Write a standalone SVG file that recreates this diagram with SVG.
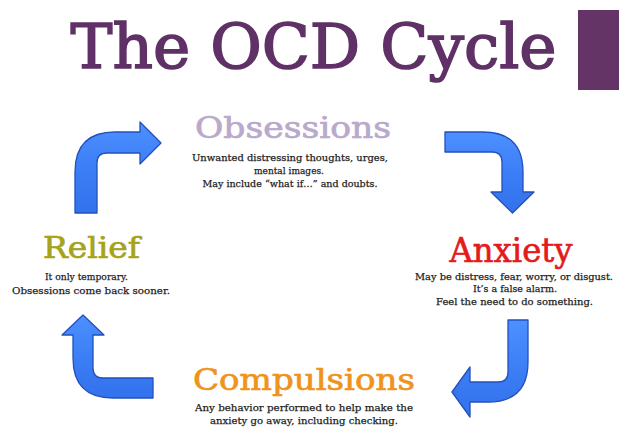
<svg xmlns="http://www.w3.org/2000/svg" width="619" height="428" viewBox="0 0 619 428">
  <defs>
    <linearGradient id="arrowFill" x1="0" y1="0" x2="0" y2="1">
      <stop offset="0" stop-color="#4d90ff"/>
      <stop offset="0.5" stop-color="#3c7ef6"/>
      <stop offset="1" stop-color="#3272ec"/>
    </linearGradient>
  </defs>
  <style>
    .head { font-family: "DejaVu Serif", "Liberation Serif", serif; text-anchor: middle; }
    .desc { font-family: "DejaVu Serif", "Liberation Serif", serif; font-size: 10px; fill: #1c1c1c; stroke: #1c1c1c; stroke-width: 0.25; text-anchor: middle; }
    .arrow { fill: url(#arrowFill); stroke: #2350bd; stroke-width: 1.3; stroke-linejoin: round; }
  </style>
  <rect width="619" height="428" fill="#ffffff"/>

  <g id="title">
    <text class="head" x="313.5" y="68" font-size="62" fill="#5f3166" stroke="#5f3166" stroke-width="1.6" textLength="486" lengthAdjust="spacingAndGlyphs">The OCD Cycle</text>
    <rect x="578" y="10" width="41" height="80" fill="#643466"/>
  </g>

  <g id="connectors">
    <path class="arrow" d="M75,213 L75,172 Q75,132 115,132 L140,132 L140,122 L161,143 L140,164 L140,153 L107,153 Q97,153 97,163 L97,213 Z"/>
    <path class="arrow" d="M445,132 L483,132 Q523,132 523,172 L523,192 L534,192 L512.5,213 L491,192 L502,192 L502,162 Q502,152 492,152 L445,152 Z"/>
    <path class="arrow" d="M508,320 L528,320 L528,362 Q528,402 488,402 L470,402 L470,417 L452,392 L470,367 L470,382 L498,382 Q508,382 508,372 Z"/>
    <path class="arrow" d="M153,378 L103,378 Q93,378 93,368 L93,335 L104,335 L83,315 L62,335 L73,335 L73,358 Q73,398 113,398 L153,398 Z"/>
  </g>

  <g id="obsessions">
    <text class="head" x="293" y="138" font-size="29" fill="#b9a9cc" stroke="#b9a9cc" stroke-width="0.7" textLength="196" lengthAdjust="spacingAndGlyphs">Obsessions</text>
    <text class="desc" x="290" y="161" textLength="196" lengthAdjust="spacingAndGlyphs">Unwanted distressing thoughts, urges,</text>
    <text class="desc" x="289" y="174" textLength="70" lengthAdjust="spacingAndGlyphs">mental images.</text>
    <text class="desc" x="290" y="187" textLength="175" lengthAdjust="spacingAndGlyphs">May include “what if…” and doubts.</text>
  </g>

  <g id="anxiety">
    <text class="head" x="511" y="262" font-size="33" fill="#e31b1b" stroke="#e31b1b" stroke-width="0.7" textLength="123" lengthAdjust="spacingAndGlyphs">Anxiety</text>
    <text class="desc" x="514" y="280" textLength="198" lengthAdjust="spacingAndGlyphs">May be distress, fear, worry, or disgust.</text>
    <text class="desc" x="515" y="292" textLength="84" lengthAdjust="spacingAndGlyphs">It’s a false alarm.</text>
    <text class="desc" x="514.5" y="305" textLength="157" lengthAdjust="spacingAndGlyphs">Feel the need to do something.</text>
  </g>

  <g id="relief">
    <text class="head" x="91.5" y="258" font-size="29" fill="#a6a31a" stroke="#a6a31a" stroke-width="0.7" textLength="97" lengthAdjust="spacingAndGlyphs">Relief</text>
    <text class="desc" x="86.5" y="280" textLength="83" lengthAdjust="spacingAndGlyphs">It only temporary.</text>
    <text class="desc" x="91" y="294" textLength="158" lengthAdjust="spacingAndGlyphs">Obsessions come back sooner.</text>
  </g>

  <g id="compulsions">
    <text class="head" x="304" y="390" font-size="30" fill="#ef931c" stroke="#ef931c" stroke-width="0.7" textLength="222" lengthAdjust="spacingAndGlyphs">Compulsions</text>
    <text class="desc" x="304" y="411" textLength="218" lengthAdjust="spacingAndGlyphs">Any behavior performed to help make the</text>
    <text class="desc" x="304" y="424" textLength="188" lengthAdjust="spacingAndGlyphs">anxiety go away, including checking.</text>
  </g>
</svg>
